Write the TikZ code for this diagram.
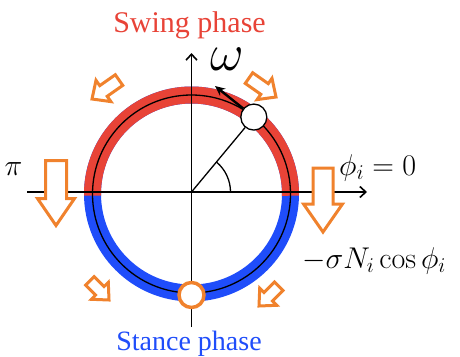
\RequirePackage{fix-cm}
\documentclass[tikz,border=0pt]{standalone}
\usepackage[no-math]{fontspec}
\setmainfont{Liberation Serif}
\usetikzlibrary{arrows.meta,calc}
\definecolor{swingred}{RGB}{232,67,55}
\definecolor{stanceblue}{RGB}{31,77,250}
\definecolor{forceorange}{RGB}{240,130,45}
% tip, angle, total length, shaft half-width, head length, head half-width
\newcommand\forcearrow[6]{%
  \draw[forcearrow, shift={(#1)}, rotate=#2] (-#3,-#4) -- (-#5,-#4) -- (-#5,-#6) -- (0,0) -- (-#5,#6) -- (-#5,#4) -- (-#3,#4) -- cycle;}
\begin{document}
\begin{tikzpicture}[x=1bp,y=1bp,
  band/.style={line width=17bp},
  axis/.style={line width=1.6bp,-{Straight Barb[length=6bp,width=11bp]}},
  forcearrow/.style={draw=forceorange,fill=white,line width=3bp,line join=miter},
  phasept/.style={circle,fill=white,draw=black,line width=1.3bp,minimum size=26bp,inner sep=0pt},
  stancept/.style={circle,fill=white,draw=forceorange,line width=3.5bp,minimum size=25bp,inner sep=0pt},
  bigtext/.style={font=\fontsize{30bp}{36bp}\selectfont,inner sep=0pt},
  mathtext/.style={font=\fontsize{30bp}{36bp}\selectfont,inner sep=0pt},
]
\useasboundingbox (0,0) rectangle (460,356);
\coordinate (C) at (191.5,162);
\coordinate (O) at (191.5,164);
% bands
\draw[band,stanceblue] (C) circle[radius=99];
\draw[band,swingred] ($(C)+(-1:99)$) arc[start angle=-1,end angle=181,radius=99];
\draw[line width=1.3bp] (C) circle[radius=99];
% axes
\coordinate (xl) at (27,164);
\coordinate (xr) at (367,164);
\coordinate (yb) at (191.5,29);
\coordinate (yt) at (191.5,303);
\draw[axis] (xl) -- (xr);
\draw[axis] (yb) -- (yt);
% phase point and radius
\node[phasept] (p) at ($(C)+(51:99)$) {};
\draw[line width=1.3bp] (O) -- (p);
\draw[line width=1.3bp] ($(O)+(39,0)$) arc[start angle=0,end angle=50,radius=39];
\coordinate (v) at (215,270);
\draw[line width=2.4bp,-{Stealth[length=10bp,width=9bp]}] (p.141) -- (v);
\node[stancept] (q) at (191.5,61) {};
% force arrows
\forcearrow{56,130.5}{-90}{65}{10.5}{27}{18.5}
\forcearrow{323,124}{-90}{64}{10}{28}{19.5}
\forcearrow{92,257}{215}{33}{6.5}{14}{13}
\forcearrow{276,259}{-35}{33}{6.5}{14}{13}
\forcearrow{109,56}{-45}{27}{6}{13}{12}
\forcearrow{259,50}{225}{28}{6}{13}{12}
% labels
\node[bigtext,text=swingred,anchor=base] (swing) at (189.5,324) {Swing phase};
\node[font=\fontsize{28bp}{34bp}\selectfont,inner sep=0pt,text=stanceblue,anchor=base] (stance) at (189,6) {Stance phase};
\node[font=\fontsize{52bp}{60bp}\selectfont,inner sep=0pt] (omega) at (227,297) {$\omega$};
\node[mathtext,anchor=base] (pi) at (13.5,181) {$\pi$};
\node[mathtext,anchor=base west] (phi0) at (339,181) {$\phi_i=0$};
\node[mathtext,anchor=base west] (force) at (302,88) {$-\sigma N_i\cos\phi_i$};
\end{tikzpicture}
\end{document}
